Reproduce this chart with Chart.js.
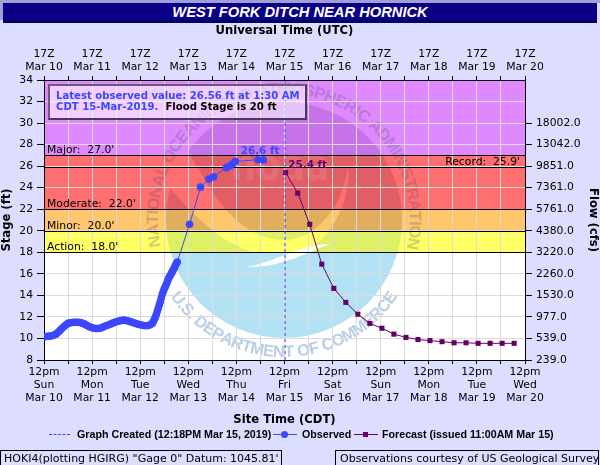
<!DOCTYPE html>
<html>
<head>
<meta charset="utf-8">
<title>West Fork Ditch near Hornick</title>
<script src="https://cdn.jsdelivr.net/npm/chart.js@4"></script>
<style>
    html, body { margin: 0; padding: 0; background: #ddddff; }
    #wrap { position: relative; width: 600px; height: 465px; overflow: hidden; }
    #titlebar { position: absolute; left: 3px; top: 3px; width: 594px; height: 17px; background: #0b0086;
        border-bottom: 3px solid #000060; color: #fff; text-align: center;
        font: italic bold 14.7px/18px "Liberation Sans", sans-serif; }
    #topstrip { position: absolute; left: 0; top: 0; width: 600px; height: 3px; background: #a0a0d8; }
    #leftstrip { position: absolute; left: 0; top: 0; width: 3px; height: 20px; background: #a0a0d8; }
    #info { position: absolute; left: 48px; top: 84px; width: 255px; height: 28px; padding: 4px 0 0 0;
        border: 2px solid #6a5a80; border-right-color: #4a3a60; border-bottom-color: #4a3a60;
        background: rgba(255,255,255,0.58);
        font: bold 10.1px/11px "DejaVu Sans", sans-serif; color: #3b47ff; }
    #info div { padding-left: 6px; white-space: nowrap; }
    #info span { color: #000; }
    .foot { position: absolute; top: 450px; height: 20px; border: 1px solid #000; box-sizing: border-box;
        font: 11px/15px "DejaVu Sans", sans-serif; color: #000; padding-left: 3px; white-space: nowrap; }
    .leg { position: absolute; top: 427px; font: bold 10.7px/14px "Liberation Sans", sans-serif; color: #000; white-space: nowrap; }
    .swatch { position: absolute; top: 434px; height: 0; }
    .mark { position: absolute; }
</style>
</head>
<body>
<div id="wrap">
    <canvas id="stageChart" width="600" height="465"></canvas>
    <div id="topstrip"></div>
    <div id="leftstrip"></div>
    <div id="titlebar">WEST FORK DITCH NEAR HORNICK</div>
    <div id="info">
        <div>Latest observed value: 26.56 ft at 1:30 AM</div>
        <div>CDT 15-Mar-2019.&nbsp; <span>Flood Stage is 20 ft</span></div>
    </div>

    <div class="swatch" style="left:49px;width:21px;border-top:1px dashed #3b47ff"></div>
    <div class="leg" style="left:77px">Graph Created (12:18PM Mar 15, 2019)</div>
    <div class="swatch" style="left:273px;width:24px;border-top:1px solid #3b47ff"></div>
    <div class="mark" style="left:281px;top:431px;width:7px;height:7px;border-radius:50%;background:#3b47ff"></div>
    <div class="leg" style="left:302px">Observed</div>
    <div class="swatch" style="left:354px;width:24px;border-top:1px solid #660066"></div>
    <div class="mark" style="left:363px;top:432px;width:5px;height:5px;background:#660066"></div>
    <div class="leg" style="left:382px">Forecast (issued 11:00AM Mar 15)</div>

    <div class="foot" style="left:0;width:282px">HOKI4(plotting HGIRG) "Gage 0" Datum: 1045.81'</div>
    <div class="foot" style="left:335px;width:264px;padding-left:4px">Observations courtesy of US Geological Survey</div>
</div>

<script>
// Hours since 12pm CDT Mar 10
const obsHours = [0, 1, 2, 3, 4, 5, 6, 7, 8, 9, 10, 11, 12, 13, 14, 15, 16, 17, 18, 19, 20, 21, 22, 23, 24, 25, 26, 27, 28, 29, 30, 31, 32, 33, 34, 35, 36, 37, 38, 39, 40, 41, 42, 43, 44, 45, 46, 47, 48, 49, 50, 51, 52, 53, 54, 54.5, 55, 55.5, 56, 56.5, 57, 57.5, 58, 58.5, 59, 59.5, 60, 60.5, 61, 61.5, 62, 62.5, 63, 63.5, 64, 64.5, 65, 65.5, 66, 66.5, 72.6, 78.1, 82.3, 84.6, 91, 93, 94, 95.5, 106.8, 109.5];
const obsStage = [10.16, 10.18, 10.2, 10.22, 10.25, 10.32, 10.4, 10.58, 10.75, 10.95, 11.1, 11.28, 11.4, 11.45, 11.48, 11.5, 11.5, 11.5, 11.48, 11.42, 11.35, 11.25, 11.15, 11.07, 11.0, 10.95, 10.92, 10.92, 10.95, 11.02, 11.1, 11.18, 11.25, 11.32, 11.4, 11.48, 11.55, 11.6, 11.65, 11.68, 11.7, 11.67, 11.62, 11.56, 11.5, 11.44, 11.38, 11.32, 11.28, 11.23, 11.2, 11.18, 11.2, 11.28, 11.4, 11.55, 11.75, 11.95, 12.2, 12.5, 12.8, 13.1, 13.4, 13.75, 14.1, 14.35, 14.6, 14.8, 15.0, 15.25, 15.5, 15.7, 15.85, 16.03, 16.2, 16.38, 16.55, 16.75, 16.95, 17.1, 20.6, 24.05, 24.8, 25.0, 25.86, 26.05, 26.2, 26.44, 26.6, 26.56];

const fcstHours = [120.6, 126.6, 132.6, 138.6, 144.6, 150.6, 156.6, 162.6, 168.6, 174.6, 180.6, 186.6, 192.6, 198.6, 204.6, 210.6, 216.6, 222.6, 228.6, 234.6];
const fcstStage = [25.4, 23.5, 20.6, 16.9, 14.65, 13.35, 12.25, 11.4, 10.95, 10.4, 10.1, 9.9, 9.8, 9.7, 9.6, 9.6, 9.55, 9.55, 9.55, 9.55];

const createdHour = 120.3;

const dayNames = ['Sun', 'Mon', 'Tue', 'Wed', 'Thu', 'Fri', 'Sat', 'Sun', 'Mon', 'Tue', 'Wed'];
const dateNames = ['Mar 10', 'Mar 11', 'Mar 12', 'Mar 13', 'Mar 14', 'Mar 15', 'Mar 16', 'Mar 17', 'Mar 18', 'Mar 19', 'Mar 20'];
const flowLabels = ['239.0', '539.0', '977.0', '1530.0', '2260.0', '3220.0', '4380.0', '5761.0', '7361.0', '9851.0', '13042.0', '18002.0'];

// Flood category bands
const bandLimits = [18, 20, 22, 27, 34];
const bandColors = ['#ffff66', '#ffc66c', '#ff6f6f', '#e088ff'];
const stageLines = [18, 20, 22, 25.9, 27];
const stageNotes = [['Action:  18.0\'', 18], ['Minor:  20.0\'', 20], ['Moderate:  22.0\'', 22], ['Major:  27.0\'', 27]];

const tickFont = { family: '"DejaVu Sans"', size: 10.8 };
const titleFont = { family: '"DejaVu Sans"', size: 11.6, weight: 'bold' };

function arcText(ctx, text, cx, cy, r, startDeg, endDeg, inward) {
    // lay letters out along a circle, spaced by their own widths
    const widths = [...text].map(c => ctx.measureText(c).width);
    const total = widths.reduce((a, b) => a + b, 0);
    const span = (endDeg - startDeg) * Math.PI / 180;
    let used = 0;
    [...text].forEach((c, i) => {
        const ang = startDeg * Math.PI / 180 + span * (used + widths[i] / 2) / total;
        used += widths[i];
        ctx.save();
        ctx.translate(cx + r * Math.cos(ang), cy + r * Math.sin(ang));
        ctx.rotate(inward ? ang + Math.PI / 2 : ang - Math.PI / 2);
        ctx.fillText(c, 0, 0);
        ctx.restore();
    });
}

function drawSeal(ctx, yScale) {
    const cx = 284, cy = 220, r = 118;
    const y22 = yScale.getPixelForValue(22);
    const y20 = yScale.getPixelForValue(20);
    const y18 = yScale.getPixelForValue(18);
    ctx.save();
    ctx.beginPath();
    ctx.arc(cx, cy, r, 0, Math.PI * 2);
    ctx.clip();
    ctx.globalCompositeOperation = 'multiply';

    // lake
    ctx.fillStyle = '#b3e2f5';
    ctx.fillRect(cx - r, y18, r * 2, cy + r - y18);

    // tint everywhere above the lake, except the pale crescent under the emblem
    ctx.save();
    ctx.beginPath();
    ctx.rect(cx - r, cy - r, r * 2, r * 2);
    ctx.moveTo(180, 140);
    ctx.bezierCurveTo(200, 165, 225, 238, 283, 240);
    ctx.bezierCurveTo(320, 240, 345, 200, 348, 165);
    ctx.bezierCurveTo(352, 205, 325, 256, 283, 256);
    ctx.bezierCurveTo(225, 256, 195, 215, 158, 175);
    ctx.closePath();
    ctx.clip('evenodd');
    ctx.fillStyle = '#e2d8ea';
    ctx.fillRect(cx - r, cy - r, r * 2, y22 - cy + r);
    ctx.fillStyle = '#e0e0dc';
    ctx.fillRect(cx - r, y22, r * 2, y20 - y22);
    ctx.fillStyle = '#ddf0ff';
    ctx.fillRect(cx - r, y20, r * 2, y18 - y20);
    ctx.restore();
    ctx.globalCompositeOperation = 'source-over';

    // gull
    ctx.fillStyle = 'rgba(255,255,255,0.95)';
    ctx.beginPath();
    ctx.moveTo(246, 267);
    ctx.bezierCurveTo(285, 268, 310, 250, 331, 244);
    ctx.bezierCurveTo(305, 243, 275, 262, 246, 267);
    ctx.fill();

    ctx.save();
    ctx.translate(cx - 4, 180);
    ctx.scale(0.82, 1);
    ctx.font = 'bold 44px "DejaVu Sans"';
    ctx.textAlign = 'center';
    ctx.fillStyle = 'rgba(255,255,255,0.1)';
    ctx.fillText('noaa', 0, 0);
    ctx.restore();
    ctx.restore();

    ctx.save();
    ctx.font = 'bold 16.5px "Liberation Sans"';
    ctx.textAlign = 'center';
    ctx.fillStyle = 'rgba(70,70,110,0.25)';
    arcText(ctx, 'NATIONAL OCEANIC AND ATMOSPHERIC ADMINISTRATION', cx, cy, 126, 168, 373, true);
    ctx.fillStyle = '#b8cfe6';
    arcText(ctx, 'U.S. DEPARTMENT OF COMMERCE', cx, cy, 137, 146, 34, false);
    ctx.restore();
}

const bandPlugin = {
    id: 'bands',
    beforeDraw(chart) {
        const { ctx, chartArea: a, scales } = chart;
        ctx.save();
        ctx.fillStyle = '#ddddff';
        ctx.fillRect(0, 0, chart.width, chart.height);
        ctx.fillStyle = '#fff';
        ctx.fillRect(a.left, a.top, a.right - a.left, a.bottom - a.top);
        bandColors.forEach((color, i) => {
            const top = scales.y.getPixelForValue(bandLimits[i + 1]);
            const bottom = scales.y.getPixelForValue(bandLimits[i]);
            ctx.fillStyle = color;
            ctx.fillRect(a.left, top, a.right - a.left, bottom - top);
        });
        ctx.restore();
        drawSeal(ctx, scales.y);
    },
    beforeDatasetsDraw(chart) {
        const { ctx, chartArea: a, scales } = chart;
        ctx.save();
        ctx.strokeStyle = '#000';
        ctx.lineWidth = 1;
        stageLines.forEach(v => {
            const y = Math.round(scales.y.getPixelForValue(v)) + 0.5;
            ctx.beginPath();
            ctx.moveTo(a.left, y);
            ctx.lineTo(a.right, y);
            ctx.stroke();
        });
        ctx.fillStyle = '#000';
        ctx.font = '10.8px "DejaVu Sans"';
        ctx.textBaseline = 'alphabetic';
        stageNotes.forEach(n => {
            ctx.fillText(n[0], a.left + 3, scales.y.getPixelForValue(n[1]) - 2);
        });
        ctx.textAlign = 'right';
        ctx.fillText('Record:  25.9\'', a.right - 5, scales.y.getPixelForValue(25.9) - 2);
        ctx.restore();
    },
    afterDatasetsDraw(chart) {
        const { ctx, scales } = chart;
        ctx.save();
        ctx.font = 'bold 10.4px "DejaVu Sans"';
        ctx.textAlign = 'center';
        ctx.fillStyle = '#3b47ff';
        ctx.fillText('26.6 ft', scales.x.getPixelForValue(106.8) + 2, scales.y.getPixelForValue(26.6) - 6);
        ctx.fillStyle = '#660066';
        ctx.fillText('25.4 ft', scales.x.getPixelForValue(120.6) + 22, scales.y.getPixelForValue(25.4) - 5);
        ctx.restore();
    }
};

const xTicks = (labelFor) => ({
    font: tickFont,
    color: '#000',
    stepSize: 12,
    autoSkip: false,
    maxRotation: 0,
    padding: 2,
    callback: labelFor
});

new Chart(document.getElementById('stageChart').getContext('2d'), {
    type: 'line',
    plugins: [bandPlugin],
    data: {
        datasets: [
            {
                label: 'Graph Created',
                data: [{ x: createdHour, y: 8 }, { x: createdHour, y: 34 }],
                borderColor: '#3b47ff',
                borderWidth: 1,
                borderDash: [3, 3],
                pointRadius: 0
            },
            {
                label: 'Observed',
                data: obsHours.map((h, i) => ({ x: h, y: obsStage[i] })),
                borderColor: '#3b47ff',
                backgroundColor: '#3b47ff',
                borderWidth: 1,
                pointRadius: 3.8,
                pointBorderWidth: 0
            },
            {
                label: 'Forecast',
                data: fcstHours.map((h, i) => ({ x: h, y: fcstStage[i] })),
                borderColor: '#660066',
                backgroundColor: '#660066',
                borderWidth: 1,
                pointStyle: 'rect',
                pointRadius: 3.6,
                pointBorderWidth: 0
            }
        ]
    },
    options: {
        responsive: false,
        animation: false,
        layout: { padding: { top: 24, bottom: 38, left: 0, right: 0 } },
        plugins: { legend: { display: false }, tooltip: { enabled: false } },
        scales: {
            x: {
                type: 'linear',
                position: 'bottom',
                min: 0,
                max: 240,
                afterFit(scale) { scale.height = 67; },
                grid: { color: '#dcdcdc', lineWidth: 1, tickColor: '#000', tickLength: 4 },
                border: { color: '#000' },
                title: { display: true, text: 'Site Time (CDT)', font: titleFont, color: '#000', padding: 0 },
                ticks: xTicks(v => {
                    if (v % 24 !== 0) return '';
                    const d = v / 24;
                    return ['12pm', dayNames[d], dateNames[d]];
                })
            },
            xTop: {
                type: 'linear',
                position: 'top',
                min: 0,
                max: 240,
                afterFit(scale) { scale.height = 56; },
                grid: { drawOnChartArea: false, tickColor: '#000', tickLength: 4 },
                border: { color: '#000' },
                title: { display: true, text: 'Universal Time (UTC)', font: titleFont, color: '#000', padding: 0 },
                ticks: xTicks(v => v % 24 === 0 ? ['17Z', dateNames[v / 24]] : '')
            },
            y: {
                position: 'left',
                min: 8,
                max: 34,
                afterFit(scale) { scale.width = 44; },
                grid: { color: '#dcdcdc', lineWidth: 1, tickColor: '#000', tickLength: 7 },
                border: { color: '#000' },
                title: { display: true, text: 'Stage (ft)', font: titleFont, color: '#000', padding: 0 },
                ticks: { font: tickFont, color: '#000', stepSize: 2, padding: 4 }
            },
            yFlow: {
                position: 'right',
                min: 8,
                max: 34,
                afterFit(scale) { scale.width = 75; },
                grid: {
                    drawOnChartArea: false,
                    tickLength: 7,
                    tickColor: ctx => ctx.tick && ctx.tick.value > 30 ? 'rgba(0,0,0,0)' : '#000'
                },
                border: { color: '#000' },
                title: { display: true, text: 'Flow (cfs)', font: titleFont, color: '#000', padding: 0 },
                ticks: {
                    font: tickFont,
                    color: '#000',
                    stepSize: 2,
                    padding: 4,
                    callback: v => flowLabels[(v - 8) / 2] || ''
                }
            }
        }
    }
});
</script>
</body>
</html>
